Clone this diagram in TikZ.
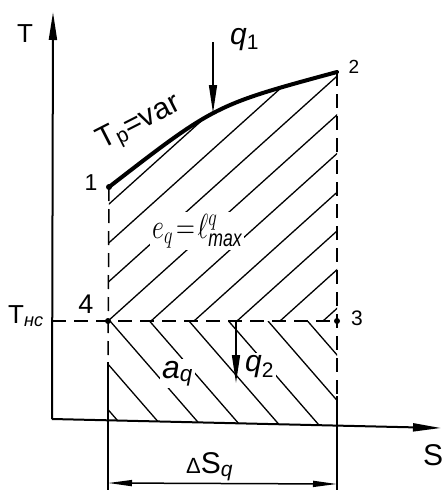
\documentclass[tikz,border=0pt]{standalone}
\usepackage{fontspec}
\setmainfont{Liberation Sans}
\usetikzlibrary{arrows.meta,calc}
\newcommand{\fs}[1]{\fontsize{#1}{#1}\selectfont}
\begin{document}
\begin{tikzpicture}[x=1pt,y=-1pt,
  axis/.style={line width=2pt},
  thinline/.style={line width=1.5pt},
  hatch/.style={line width=1.3pt},
  proc/.style={line width=4pt, line cap=round},
  dashline/.style={line width=1.5pt, dash pattern=on 14pt off 8pt},
  pt/.style={circle, fill, inner sep=0pt, minimum size=6pt},
  lbl/.style={inner sep=0pt},
  wlbl/.style={inner sep=2pt, fill=white},
  tip/.style={-{Triangle[length=28pt,width=8pt]}},
  dimtip/.style={{Triangle[length=24pt,width=6pt]}-{Triangle[length=24pt,width=6pt]}},
]
\useasboundingbox (0,0) rectangle (442,490);
% key points
\coordinate (O) at (52,419);
\coordinate (Ttop) at (53,12);
\coordinate (Send) at (441,428);
\coordinate (p1) at (109,187);
\coordinate (p2) at (337,72);
\coordinate (p3) at (337,321);
\coordinate (p4) at (108,321);
\coordinate (c12) at (215,105);
\coordinate (tnc) at (52,321);
\coordinate (b4) at (108,420.3);
\coordinate (b3) at (337,425.6);
\coordinate (m4) at (108,362);
\coordinate (m3) at (337,396);
\coordinate (d4) at (108,490);
\coordinate (d3) at (337,490);
\coordinate (e4) at (108,483);
\coordinate (e3) at (337,484);
\coordinate (q1s) at (213,42);
\coordinate (q1e) at (213,113);
\coordinate (q2s) at (236,321);
\coordinate (q2e) at (236,383);
% hatching
\begin{scope}
  \clip (p1) .. controls (c12) .. (p2) -- (p3) -- (p4) -- cycle;
  \foreach \k in {-7,...,6} { \draw[hatch] ({108+43*\k},321) -- ++(300,-270); }
\end{scope}
\begin{scope}
  \clip (p4) -- (p3) -- (b3) -- (b4) -- cycle;
  \foreach \k in {-4,...,6} { \draw[hatch] ({110+39.5*\k},321) -- ++(200,230); }
\end{scope}
% axes
\draw[axis, tip] (O) -- (Ttop);
\draw[axis, tip] (O) -- (Send);
% process and boundaries
\draw[dashline] (p1) -- (m4);
\draw[thinline] (m4) -- (d4);
\draw[dashline] (p2) -- (m3);
\draw[thinline] (m3) -- (d3);
\draw[dashline] (tnc) -- (p3);
\draw[proc] (p1) .. controls (c12) .. (p2);
\draw[thinline, dimtip] (e4) -- (e3);
\draw[thinline, tip] (q1s) -- (q1e);
\draw[thinline, tip] (q2s) -- (q2e);
% points
\node[pt] (n1) at (p1) {};
\node[pt] (n3) at (p3) {};
\node[pt] (n4) at (p4) {};
% labels
\node[lbl, anchor=base west, font=\fs{26}] (Tlab) at (17,42) {T};
\node[lbl, anchor=base west, font=\fs{30}] (Slab) at (423,465) {S};
\node[lbl, anchor=base, font=\fs{23}] (l1) at (91,190) {1};
\node[lbl, anchor=base, font=\fs{19}] (l2) at (354,73) {2};
\node[lbl, anchor=base, font=\fs{21}] (l3) at (357,325) {3};
\node[lbl, anchor=base, font=\fs{27}] (l4) at (86,313) {4};
\node[lbl, anchor=base west, font=\fs{26}] (Tnc) at (8,323) {T\textsubscript{\textit{нс}}};
\node[lbl, anchor=base west, font=\fs{30}] (q1lab) at (230,44) {\textit{q}\textsubscript{1}};
\node[wlbl, anchor=base west, font=\fs{30}] (q2lab) at (243,371) {\textit{q}\textsubscript{2}};
\node[wlbl, anchor=base west, font=\fs{32}] (aq) at (160,378) {\textit{a}\textsubscript{\textit{q}}};
\node[wlbl, anchor=base west, font=\fs{24}] (eq) at (150,238) {\scalebox{1.05}[1.4]{$e_q\!=\!\ell^{q}_{\mathit{max}}$}};
\node[lbl, anchor=base west, font=\fs{30}] (dS) at (186,473) {{\fs{22}Δ}S\textsubscript{\textit{q}}};
\node[lbl, anchor=base west, rotate=27, font=\fs{30}] (Tp) at (102,150) {T\textsubscript{p}=var};
\end{tikzpicture}
\end{document}
